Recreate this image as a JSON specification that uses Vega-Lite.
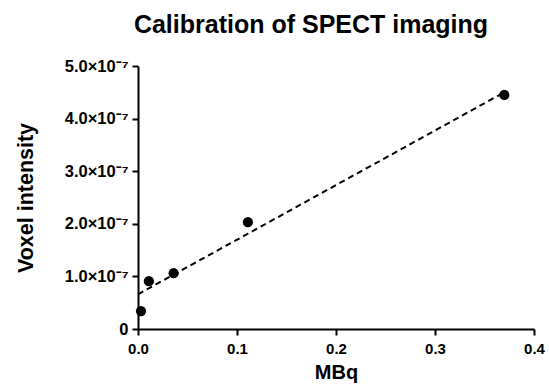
{
  "$schema": "https://vega.github.io/schema/vega-lite/v6.json",
  "autosize": "none",
  "width": 396,
  "height": 263,
  "padding": {"left": 138, "top": 66, "right": 15, "bottom": 62},
  "background": "white",
  "config": {
    "view": {"stroke": null},
    "font": "Liberation Sans"
  },
  "title": {
    "text": "Calibration of SPECT imaging",
    "fontSize": 25,
    "fontWeight": "bold",
    "font": "Liberation Sans",
    "color": "black",
    "anchor": "middle",
    "dx": -25,
    "offset": 20
  },
  "datasets": {
    "pts": [
      {"MBq": 0.003, "intensity": 3.4e-8},
      {"MBq": 0.011, "intensity": 9.1e-8},
      {"MBq": 0.036, "intensity": 1.06e-7},
      {"MBq": 0.111, "intensity": 2.03e-7},
      {"MBq": 0.37, "intensity": 4.45e-7}
    ],
    "fit": [
      {"MBq": 0.0, "intensity": 6.6e-8},
      {"MBq": 0.37, "intensity": 4.5e-7}
    ]
  },
  "layer": [
    {
      "data": {"name": "fit"},
      "mark": {"type": "line", "color": "black", "strokeWidth": 2, "strokeDash": [6, 4]},
      "encoding": {
        "x": {"field": "MBq", "type": "quantitative"},
        "y": {"field": "intensity", "type": "quantitative"}
      }
    },
    {
      "data": {"name": "pts"},
      "mark": {"type": "point", "filled": true, "color": "black", "opacity": 1, "size": 105},
      "encoding": {
        "x": {
          "field": "MBq", "type": "quantitative",
          "scale": {"domain": [0, 0.4], "nice": false, "zero": false},
          "axis": {
            "title": "MBq", "values": [0, 0.1, 0.2, 0.3, 0.4], "format": ".1f",
            "grid": false, "domainColor": "black", "domainWidth": 2,
            "tickColor": "black", "tickWidth": 2, "tickSize": 6,
            "labelFont": "Liberation Sans", "labelFontSize": 15, "labelFontWeight": "bold", "labelColor": "black",
            "labelPadding": 6, "labelFlush": false,
            "titleFont": "Liberation Sans", "titleFontSize": 20, "titleFontWeight": "bold", "titleColor": "black",
            "titlePadding": 6
          }
        },
        "y": {
          "field": "intensity", "type": "quantitative",
          "scale": {"domain": [0, 5e-7], "nice": false, "zero": false},
          "axis": {
            "title": "Voxel intensity", "values": [0, 1e-7, 2e-7, 3e-7, 4e-7, 5e-7],
            "labelExpr": "datum.value == 0 ? '0' : format(datum.value * 1e7, '.1f') + '×10⁻⁷'",
            "grid": false, "domainColor": "black", "domainWidth": 2,
            "tickColor": "black", "tickWidth": 2, "tickSize": 6,
            "labelFont": "Arial", "labelFontSize": 16.5, "labelFontWeight": "bold", "labelColor": "black",
            "labelPadding": 4, "labelFlush": false, "labelLimit": 300,
            "titleFont": "Liberation Sans", "titleFontSize": 21.5, "titleFontWeight": "bold", "titleColor": "black",
            "titleX": -106, "titleY": 131.5, "titleBaseline": "alphabetic"
          }
        }
      }
    }
  ]
}
